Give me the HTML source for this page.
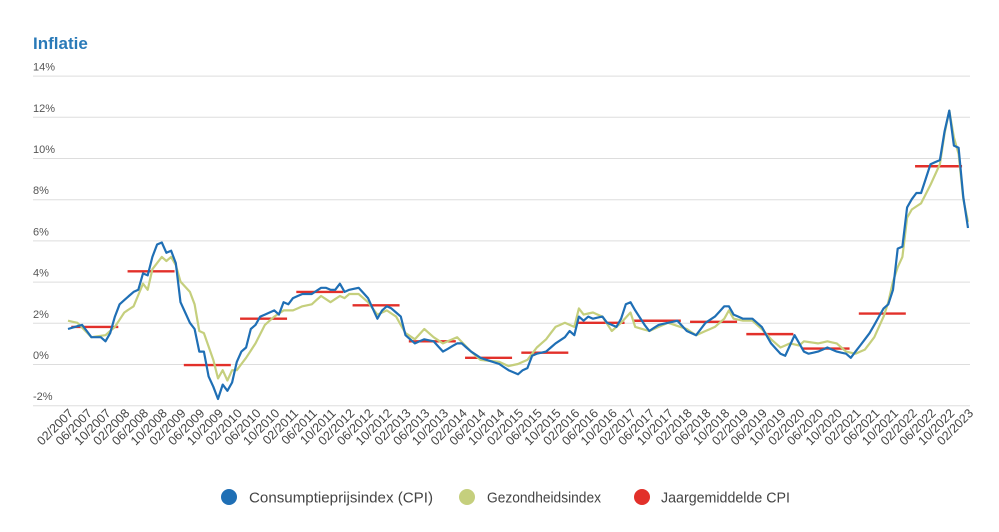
<!DOCTYPE html>
<html><head><meta charset="utf-8"><style>
body{margin:0;background:#fff;width:999px;height:527px;overflow:hidden;font-family:"Liberation Sans",sans-serif}
</style></head><body>
<svg id="s" width="999" height="527" xmlns="http://www.w3.org/2000/svg" font-family="Liberation Sans, sans-serif">
<text x="33" y="49" font-size="17" font-weight="bold" fill="#2a7ab8">Inflatie</text>
<g id="grid"></g>
<g id="xl"></g>
<g id="red"></g>
<polyline id="hl" fill="none" stroke="#c5cf7d" stroke-width="2.2" stroke-linejoin="round"/>
<polyline id="cl" fill="none" stroke="#1f6fb5" stroke-width="2.2" stroke-linejoin="round"/>
<circle cx="229" cy="497" r="8" fill="#1f6fb5"/>
<text x="249" y="502.5" font-size="15" fill="#444" textLength="184" lengthAdjust="spacingAndGlyphs">Consumptieprijsindex (CPI)</text>
<circle cx="467" cy="497" r="8" fill="#c5cf7d"/>
<text x="487" y="502.5" font-size="15" fill="#444" textLength="114" lengthAdjust="spacingAndGlyphs">Gezondheidsindex</text>
<circle cx="642" cy="497" r="8" fill="#e2302a"/>
<text x="661" y="502.5" font-size="15" fill="#444" textLength="129" lengthAdjust="spacingAndGlyphs">Jaargemiddelde CPI</text>
</svg>
<script>
var NS="http://www.w3.org/2000/svg";
function el(t,a,p,txt){var e=document.createElementNS(NS,t);for(var k in a)e.setAttribute(k,a[k]);if(txt!=null)e.textContent=txt;document.getElementById(p).appendChild(e);return e;}
function Y(v){return 364-v*20.6;}
function X(m){return 68+m*4.6875;}
for(var v=-2;v<=14;v+=2){var y=Y(v);el('line',{x1:33,x2:970,y1:y+0.5,y2:y+0.5,stroke:'#ddd','stroke-width':1},'grid');
el('text',{x:33,y:y-5,'font-size':11,fill:'#555'},'grid',v+'%');}
var mm=['02','06','10'];
for(var i=0;i<=48;i++){var yr=2007+Math.floor(i/3);var lab=mm[i%3]+'/'+yr;var x=X(i*4)+6;
el('text',{x:x,y:414,'font-size':12.5,fill:'#444','text-anchor':'end',transform:'rotate(-45 '+x+' 414)'},'xl',lab);}
function interp(k){var out=[];for(var j=0;j<k.length-1;j++){var a=k[j],b=k[j+1];for(var m=a[0];m<b[0];m++){out.push([m,a[1]+(b[1]-a[1])*(m-a[0])/(b[0]-a[0])]);}}out.push(k[k.length-1]);return out.map(function(p){return X(p[0]).toFixed(1)+','+Y(p[1]).toFixed(1)}).join(' ');}
var c=[[0,1.7],[3,1.9],[5,1.3],[7,1.3],[8,1.1],[9,1.5],[10,2.3],[11,2.9],[12,3.1],[14,3.5],[15,3.6],[16,4.4],[17,4.3],[18,5.2],[19,5.8],[20,5.9],[21,5.4],[22,5.5],[23,4.9],[24,3.0],[25,2.5],[26,2.0],[27,1.7],[28,0.6],[29,0.6],[30,-0.6],[31,-1.1],[32,-1.7],[33,-1.0],[34,-1.3],[35,-0.9],[36,0.1],[37,0.6],[38,0.8],[39,1.7],[40,1.9],[41,2.3],[42,2.4],[43,2.5],[44,2.6],[45,2.4],[46,3.0],[47,2.9],[48,3.2],[50,3.4],[52,3.4],[54,3.7],[55,3.7],[56,3.6],[57,3.6],[58,3.9],[59,3.5],[60,3.6],[62,3.7],[64,3.2],[66,2.2],[67,2.6],[68,2.8],[69,2.7],[70,2.5],[71,2.3],[72,1.4],[74,1.0],[76,1.2],[78,1.1],[80,0.6],[83,1.0],[84,1.0],[86,0.6],[88,0.3],[92,0.0],[94,-0.3],[96,-0.5],[97,-0.3],[98,-0.2],[99,0.4],[100,0.5],[102,0.6],[104,1.0],[106,1.3],[107,1.6],[108,1.4],[109,2.3],[110,2.1],[111,2.3],[112,2.2],[114,2.3],[115,2.0],[116,1.9],[117,1.8],[118,2.2],[119,2.9],[120,3.0],[121,2.6],[123,1.9],[124,1.6],[126,1.9],[128,2.0],[130,2.1],[132,1.6],[134,1.4],[136,2.0],[138,2.3],[140,2.8],[141,2.8],[142,2.4],[144,2.2],[146,2.2],[148,1.8],[150,1.0],[152,0.5],[153,0.4],[154,0.9],[155,1.4],[156,1.0],[157,0.6],[158,0.5],[160,0.6],[162,0.8],[164,0.6],[166,0.5],[167,0.3],[168,0.6],[169,0.9],[171,1.5],[173,2.3],[174,2.7],[175,2.9],[176,3.6],[177,5.6],[178,5.7],[179,7.6],[180,8.0],[181,8.3],[182,8.3],[183,9.0],[184,9.7],[186,9.9],[187,11.3],[188,12.3],[189,10.6],[190,10.5],[191,8.1],[192,6.6]];
var h=[[0,2.1],[2,2.0],[5,1.3],[8,1.4],[10,1.8],[12,2.5],[14,2.8],[16,3.9],[17,3.6],[18,4.6],[20,5.2],[21,5.0],[22,5.2],[23,4.8],[24,4.0],[26,3.5],[27,2.9],[28,1.6],[29,1.5],[31,0.2],[32,-0.7],[33,-0.3],[34,-0.8],[35,-0.3],[36,-0.3],[38,0.3],[40,1.0],[42,1.9],[44,2.3],[46,2.6],[48,2.6],[50,2.8],[52,2.9],[54,3.3],[56,3.0],[58,3.3],[59,3.2],[60,3.4],[62,3.4],[64,3.0],[66,2.4],[68,2.6],[70,2.3],[72,1.5],[74,1.2],[76,1.7],[78,1.3],[80,1.0],[83,1.3],[86,0.6],[88,0.2],[92,0.1],[94,-0.1],[96,0.0],[98,0.2],[100,0.8],[102,1.2],[104,1.8],[106,2.0],[108,1.8],[109,2.7],[110,2.4],[112,2.5],[114,2.3],[116,1.6],[118,2.0],[120,2.5],[121,1.8],[124,1.6],[126,1.8],[128,2.0],[132,1.7],[134,1.4],[136,1.6],[138,1.8],[140,2.2],[141,2.6],[142,2.2],[144,2.1],[146,2.1],[148,1.7],[150,1.2],[152,0.8],[154,1.0],[156,0.9],[157,1.1],[160,1.0],[162,1.1],[164,1.0],[166,0.6],[168,0.5],[170,0.7],[172,1.3],[174,2.3],[175,3.0],[176,4.0],[177,4.7],[178,5.2],[179,7.1],[180,7.5],[182,7.8],[184,8.7],[186,9.7],[187,11.2],[188,12.3],[189,11.0],[190,10.2],[191,8.0],[192,6.9]];
document.getElementById('cl').setAttribute('points',interp(c));
document.getElementById('hl').setAttribute('points',interp(h));
var avg=[1.8,4.5,-0.05,2.2,3.5,2.85,1.1,0.3,0.55,2.0,2.1,2.05,1.45,0.75,2.45,9.6];
for(var i=0;i<avg.length;i++){var x0=X(12*i-1)+8;el('line',{x1:x0,x2:x0+47,y1:Y(avg[i]),y2:Y(avg[i]),stroke:'#e2302a','stroke-width':2.4},'red');}
</script>
</body></html>
